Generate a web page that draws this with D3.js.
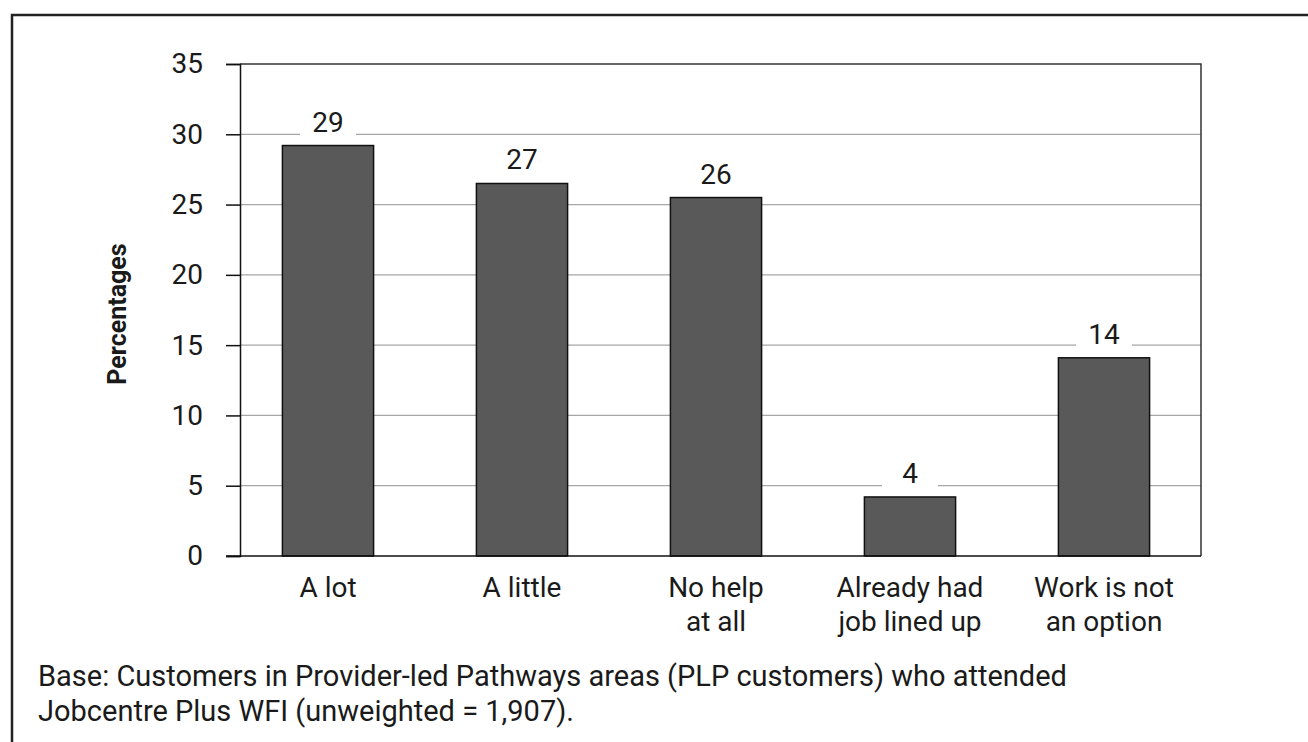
<!DOCTYPE html>
<html>
<head>
<meta charset="utf-8">
<script src="https://cdn.jsdelivr.net/npm/d3@7"></script>
<style>
  html, body { margin: 0; padding: 0; background: #fff; }
  svg { display: block; }
  text { font-family: Roboto, "Open Sans", sans-serif; fill: #1a1a1a; }
</style>
</head>
<body>
<svg id="chart" width="1308" height="742"></svg>
<script>
// Responses: how much the WFI helped
const categories = [["A lot"], ["A little"], ["No help", "at all"], ["Already had", "job lined up"], ["Work is not", "an option"]];
const values = [29.2, 26.5, 25.5, 4.2, 14.1];
const yTicks = [0, 5, 10, 15, 20, 25, 30, 35];
const yTitle = "Percentages";
const baseNote = [
  "Base: Customers in Provider-led Pathways areas (PLP customers) who attended",
  "Jobcentre Plus WFI (unweighted = 1,907)."
];

const FONT = 28;
const LINE = 33.5;
const svg = d3.select("#chart");
const W = 1308, H = 742;

// frame: top and left rules
svg.append("path")
  .attr("d", `M12,${H} L12,15 L${W},15`)
  .attr("fill", "none").attr("stroke", "#222").attr("stroke-width", 2.5);

const plot = { left: 240, right: 1201, top: 64, bottom: 556 };

const y = d3.scaleLinear().domain([0, 35]).range([plot.bottom, plot.top]);
const x = d3.scaleBand()
  .domain(categories.map((d, i) => i))
  .range([231, plot.right])
  .paddingInner(0.53)
  .paddingOuter(0.265);

// gridlines
svg.append("g").selectAll("line")
  .data(yTicks.filter(t => t > 0 && t < 35))
  .join("line")
  .attr("x1", plot.left).attr("x2", plot.right)
  .attr("y1", d => y(d)).attr("y2", d => y(d))
  .attr("stroke", "#a6a6a6").attr("stroke-width", 1.2);

// plot border (top and right)
svg.append("path")
  .attr("d", `M${plot.left},${y(35)} L${plot.right},${y(35)} L${plot.right},${plot.bottom}`)
  .attr("fill", "none").attr("stroke", "#333").attr("stroke-width", 1.5);

// y axis
const yAxis = d3.axisLeft(y).tickValues(yTicks).tickSize(14).tickPadding(23);
const gy = svg.append("g").attr("transform", `translate(${plot.left},0)`).call(yAxis);
gy.select(".domain").attr("stroke", "#111").attr("stroke-width", 1.5);
gy.selectAll(".tick line").attr("stroke", "#111").attr("stroke-width", 1.5);
gy.selectAll(".tick text")
  .attr("font-size", FONT).attr("fill", "#1a1a1a")
  .style("font-family", 'Roboto, "Open Sans", sans-serif');

// bars
svg.append("g").selectAll("rect")
  .data(values)
  .join("rect")
  .attr("x", (d, i) => x(i))
  .attr("width", x.bandwidth())
  .attr("y", d => y(d))
  .attr("height", d => y(0) - y(d))
  .attr("fill", "#595959")
  .attr("stroke", "#111").attr("stroke-width", 1.5);

// x axis baseline
svg.append("line")
  .attr("x1", 226).attr("x2", plot.right)
  .attr("y1", plot.bottom).attr("y2", plot.bottom)
  .attr("stroke", "#111").attr("stroke-width", 1.5);

// value labels with white backing
const labels = svg.append("g").selectAll("g")
  .data(values)
  .join("g")
  .attr("transform", (d, i) => `translate(${x(i) + x.bandwidth() / 2},${y(d) - 14})`);
labels.append("rect")
  .attr("x", -28).attr("width", 56)
  .attr("y", -26).attr("height", 32)
  .attr("fill", "#fff");
labels.append("text")
  .attr("text-anchor", "middle")
  .attr("font-size", FONT)
  .text(d => Math.round(d));

// category labels, one text per line
const lines = categories.flatMap((c, i) => c.map((t, j) => ({ i, j, t })));
svg.append("g").selectAll("text")
  .data(lines)
  .join("text")
  .attr("text-anchor", "middle")
  .attr("font-size", FONT)
  .attr("x", d => x(d.i) + x.bandwidth() / 2)
  .attr("y", d => 597 + d.j * LINE)
  .text(d => d.t);

// y axis title
svg.append("text")
  .attr("transform", `translate(126,${(plot.top + plot.bottom) / 2 + 4}) rotate(-90)`)
  .attr("text-anchor", "middle")
  .attr("font-size", 25)
  .attr("font-weight", "bold")
  .text(yTitle);

// base note
svg.append("g").selectAll("text")
  .data(baseNote)
  .join("text")
  .attr("x", 38)
  .attr("y", (d, i) => 686 + i * 34.5)
  .attr("font-size", 29)
  .text(d => d);
</script>
</body>
</html>
